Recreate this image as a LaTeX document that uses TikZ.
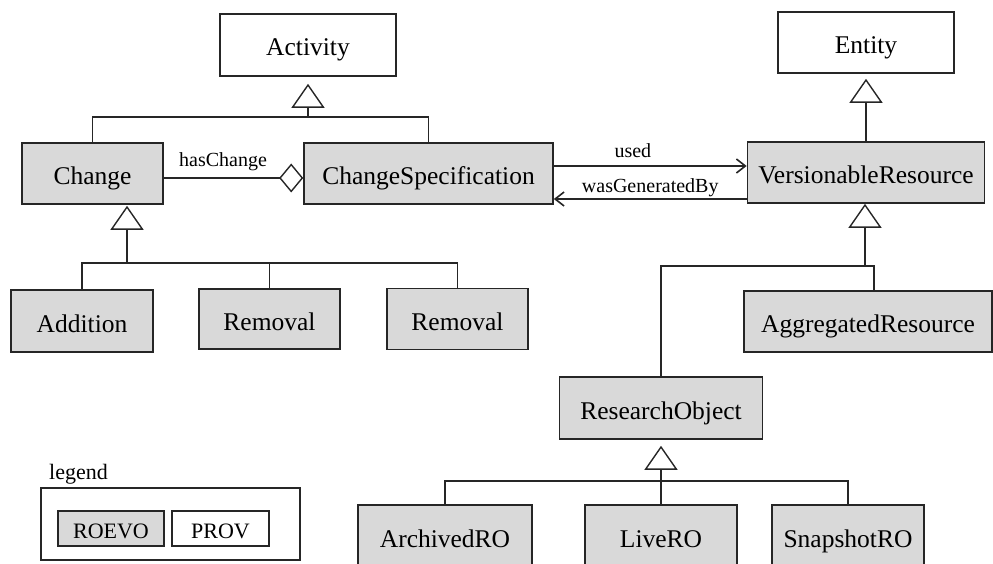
\documentclass[tikz,border=0pt]{standalone}
\usepackage{fontspec}
\setmainfont{Liberation Serif}
\usetikzlibrary{arrows.meta,calc}
\definecolor{boxgray}{HTML}{D9D9D9}
\definecolor{linegray}{HTML}{262626}
\begin{document}
\begin{tikzpicture}[x=1pt,y=-1pt,
  cls/.style={draw=linegray, line width=1.6pt, inner sep=0pt, text=black,
    font=\fontsize{25.5}{30}\selectfont, text height=22pt, text depth=0pt},
  roevo/.style={cls, fill=boxgray},
  prov/.style={cls, fill=white},
  keyfont/.style={font=\fontsize{22}{26}\selectfont, text height=19pt, text depth=0pt},
  lbl/.style={inner sep=0pt, text=black, font=\fontsize{20}{24}\selectfont},
  conn/.style={draw=linegray, line width=1.4pt},
  gen/.style={conn, -{Triangle[open, length=24pt, width=33pt, line width=1.4pt]}},
  flow/.style={conn, -{Straight Barb[length=9pt, width=14pt, line width=1.6pt]}},
  aggr/.style={conn, -{Diamond[open, length=24pt, width=29pt, line width=1.4pt]}}
]
\useasboundingbox (0,0) rectangle (993,564);
\clip (0,0) rectangle (993,564);

% classes
\node[prov, minimum width=176pt, minimum height=62pt] (act) at (308,45) {Activity};
\node[prov, minimum width=176pt, minimum height=61pt] (ent) at (866,42.5) {Entity};
\node[roevo, minimum width=141pt, minimum height=61pt] (chg) at (92.5,173.5) {Change};
\node[roevo, minimum width=249pt, minimum height=61pt] (cs) at (428.5,173.5) {ChangeSpecification};
\node[roevo, minimum width=237pt, minimum height=61pt] (vr) at (866,172.5) {VersionableResource};
\node[roevo, minimum width=142pt, minimum height=62pt] (add) at (82,321) {Addition};
\node[roevo, minimum width=141pt, minimum height=60pt] (rem1) at (269.5,319) {Removal};
\node[roevo, minimum width=141pt, minimum height=61pt] (rem2) at (457.5,319) {Removal};
\node[roevo, minimum width=248pt, minimum height=61pt] (ar) at (868,321.5) {AggregatedResource};
\node[roevo, minimum width=203pt, minimum height=62pt] (ro) at (661,408) {ResearchObject};
\node[roevo, minimum width=174pt, minimum height=62pt] (arch) at (445,536) {ArchivedRO};
\node[roevo, minimum width=152pt, minimum height=62pt] (live) at (661,536) {LiveRO};
\node[roevo, minimum width=152pt, minimum height=62pt] (snap) at (848,536) {SnapshotRO};

% legend
\node[draw=linegray, line width=1.4pt, minimum width=259pt, minimum height=72pt, inner sep=0pt] (lgd) at (170.5,524) {};
\node[lbl, font=\fontsize{22}{26}\selectfont, anchor=base west] (lgdt) at (49,479) {legend};
\node[roevo, keyfont, minimum width=106pt, minimum height=35pt] (kroevo) at (111,528.5) {ROEVO};
\node[prov, keyfont, minimum width=97pt, minimum height=35pt] (kprov) at (220.5,528.5) {PROV};

% generalisation: Activity
\coordinate (jA) at (308,117);
\draw[gen, shorten >=7pt] (chg.north) |- (jA) -- (act.south);
\draw[conn] (cs.north) |- (jA);

% generalisation: Change
\coordinate (jC) at (127,263);
\draw[gen, shorten >=1pt] (add.north) |- (jC) -- (jC |- chg.south);
\draw[conn] (rem1.north) |- (jC);
\draw[conn] (rem2.north) |- (jC);

% generalisation: Entity
\draw[gen, shorten >=5pt] (vr.north) -- (ent.south);

% generalisation: VersionableResource
\coordinate (jV) at (865,266);
\coordinate (jAR) at (874,266);
\draw[gen] (ro.north) |- (jV) -- (jV |- vr.south);
\draw[conn] (jAR |- ar.north) -- (jAR) -- (jV);

% generalisation: ResearchObject
\coordinate (jR) at (661,481);
\draw[gen, shorten >=6pt] (live.north) -- (jR) -- (ro.south);
\draw[conn] (arch.north) |- (jR);
\draw[conn] (snap.north) |- (jR);

% hasChange
\draw[aggr] ([yshift=-4.5pt]chg.east) -- ([yshift=-4.5pt]chg.east -| cs.west)
  node[lbl, pos=0.425, yshift=16pt] (lhc) {hasChange};

% used / wasGeneratedBy
\draw[flow] ([yshift=7.5pt]cs.east) -- ([yshift=7.5pt]cs.east -| vr.west)
  node[lbl, pos=0.41, yshift=15pt] (lused) {used};
\draw[flow] ([yshift=-26.5pt]vr.west) -- ([yshift=-26.5pt]vr.west -| cs.east)
  node[lbl, pos=0.5, yshift=11pt] (lwgb) {wasGeneratedBy};
\end{tikzpicture}
\end{document}
